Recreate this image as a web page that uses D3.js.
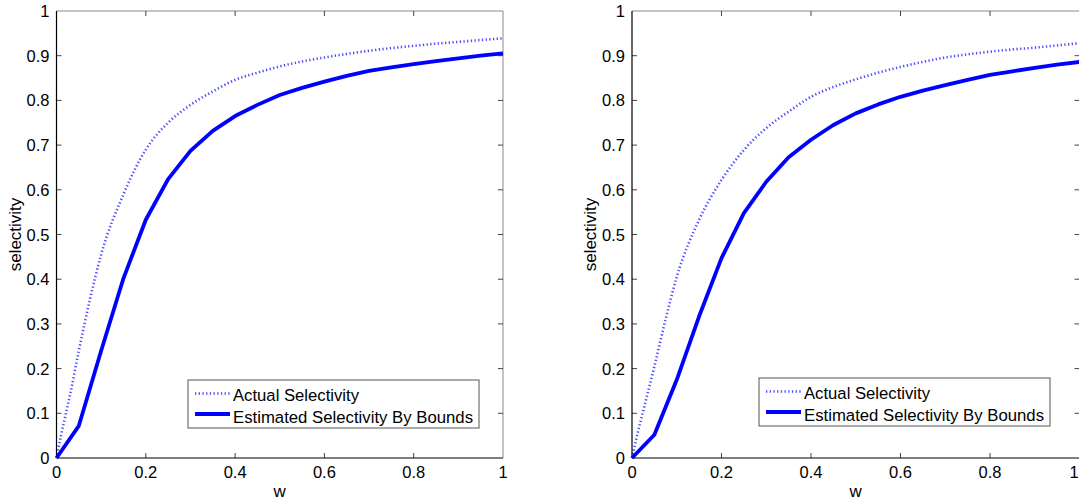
<!DOCTYPE html>
<html>
<head>
<meta charset="utf-8">
<script src="https://cdn.jsdelivr.net/npm/d3@7"></script>
<style>
  html, body { margin: 0; padding: 0; background: #fff; overflow: hidden; }
  svg { display: block; }
  text { font-family: "Liberation Sans", Arial, sans-serif; fill: #000; }
</style>
</head>
<body>
<svg id="chart" width="1079" height="504"></svg>
<script>
// w grid for the bound-based estimate (piecewise linear)
const wEstimated = [0, 0.05, 0.1, 0.15, 0.2, 0.25, 0.3, 0.35, 0.4, 0.45, 0.5,
                    0.55, 0.6, 0.65, 0.7, 0.75, 0.8, 0.85, 0.9, 0.95, 1];
// w grid for the actual selectivity curve
const wActual = [0, 0.01, 0.02, 0.03, 0.05, 0.075, 0.1, 0.15, 0.2, 0.25, 0.3, 0.35,
                 0.4, 0.45, 0.5, 0.55, 0.6, 0.65, 0.7, 0.75, 0.8, 0.85, 0.9, 0.95, 1];

// left panel
const leftActual = [0, 0.05, 0.095, 0.14, 0.24, 0.355, 0.455, 0.59, 0.69, 0.75, 0.79, 0.82,
                    0.846, 0.862, 0.876, 0.887, 0.896, 0.904, 0.911, 0.917, 0.922, 0.927, 0.931, 0.935, 0.939];
const leftEstimated = [0, 0.072, 0.24, 0.402, 0.533, 0.624, 0.687, 0.732, 0.765, 0.79, 0.812,
                       0.828, 0.842, 0.855, 0.866, 0.874, 0.881, 0.888, 0.894, 0.9, 0.905];

// right panel
const rightActual = [0, 0.045, 0.085, 0.125, 0.205, 0.31, 0.405, 0.533, 0.622, 0.689, 0.738, 0.775,
                     0.808, 0.83, 0.847, 0.862, 0.875, 0.886, 0.896, 0.903, 0.909, 0.914, 0.918, 0.923, 0.928];
const rightEstimated = [0, 0.052, 0.175, 0.317, 0.447, 0.548, 0.618, 0.673, 0.712, 0.745, 0.771,
                        0.791, 0.808, 0.822, 0.834, 0.846, 0.857, 0.865, 0.873, 0.88, 0.886];

const xTicks = [0, 0.2, 0.4, 0.6, 0.8, 1];
const yTicks = [0, 0.1, 0.2, 0.3, 0.4, 0.5, 0.6, 0.7, 0.8, 0.9, 1];
const legendLabels = ["Actual Selectivity", "Estimated Selectivity By Bounds"];
const xTitle = "w";
const yTitle = "selectivity";

const svg = d3.select("#chart");
const BLUE = "#0000ff";
const W = 1079;

function panel(box, legendPos, actual, estimated) {
  const x = d3.scaleLinear().domain([0, 1]).range([box.left, box.right]);
  const y = d3.scaleLinear().domain([0, 1]).range([box.bottom, box.top]);
  const g = svg.append("g");

  // frame + inward ticks on all four sides
  g.append("line").attr("x1", box.left).attr("x2", box.right).attr("y1", box.top).attr("y2", box.top)
    .attr("stroke", "#8a8a8a").attr("stroke-width", 1);
  g.append("line").attr("x1", box.right).attr("x2", box.right).attr("y1", box.top).attr("y2", box.bottom)
    .attr("stroke", "#8a8a8a").attr("stroke-width", 1);

  const tl = 5;
  g.selectAll(".tb").data(xTicks.slice(1, -1)).join("line")
    .attr("x1", d => x(d)).attr("x2", d => x(d)).attr("y1", box.bottom).attr("y2", box.bottom - tl)
    .attr("stroke", "#444");
  g.selectAll(".tt").data(xTicks.slice(1, -1)).join("line")
    .attr("x1", d => x(d)).attr("x2", d => x(d)).attr("y1", box.top).attr("y2", box.top + tl)
    .attr("stroke", "#444");
  g.selectAll(".tlft").data(yTicks.slice(1, -1)).join("line")
    .attr("x1", box.left).attr("x2", box.left + tl).attr("y1", d => y(d)).attr("y2", d => y(d))
    .attr("stroke", "#444");
  g.selectAll(".trt").data(yTicks.slice(1, -1)).join("line")
    .attr("x1", box.right).attr("x2", box.right - tl).attr("y1", d => y(d)).attr("y2", d => y(d))
    .attr("stroke", "#444");

  g.append("line").attr("x1", box.left).attr("x2", box.right).attr("y1", box.bottom).attr("y2", box.bottom)
    .attr("stroke", "#000").attr("stroke-width", 1.2);
  g.append("line").attr("x1", box.left).attr("x2", box.left).attr("y1", box.top).attr("y2", box.bottom)
    .attr("stroke", "#000").attr("stroke-width", 1.2);

  // tick labels (a label that would spill past the page edge is pulled back inside)
  g.selectAll(".xl").data(xTicks).join("text")
    .attr("x", d => Math.min(x(d), W - 5)).attr("y", box.bottom + 20)
    .attr("text-anchor", "middle").attr("font-size", 16.5)
    .text(d => d3.format("~g")(d));
  g.selectAll(".yl").data(yTicks).join("text")
    .attr("x", box.left - 7).attr("y", d => y(d) + 6)
    .attr("text-anchor", "end").attr("font-size", 16.5)
    .text(d => d3.format("~g")(d));

  // axis titles
  g.append("text").attr("x", (box.left + box.right) / 2).attr("y", box.bottom + 39)
    .attr("text-anchor", "middle").attr("font-size", 17).text(xTitle);
  g.append("text")
    .attr("transform", `translate(${box.left - 36},${(box.top + box.bottom) / 2}) rotate(-90)`)
    .attr("text-anchor", "middle").attr("font-size", 17).text(yTitle);

  // series
  const actLine = d3.line().x((d, i) => x(wActual[i])).y(d => y(d)).curve(d3.curveMonotoneX);
  const estLine = d3.line().x((d, i) => x(wEstimated[i])).y(d => y(d));

  g.append("path").datum(actual).attr("d", actLine)
    .attr("fill", "none").attr("stroke", BLUE).attr("stroke-opacity", 0.7)
    .attr("stroke-width", 2.6).attr("stroke-dasharray", "1.3,2.4");
  g.append("path").datum(estimated).attr("d", estLine)
    .attr("fill", "none").attr("stroke", BLUE).attr("stroke-width", 3.8)
    .attr("stroke-linejoin", "round");

  // legend
  const lg = g.append("g").attr("transform", `translate(${legendPos.x},${legendPos.y})`);
  lg.append("rect").attr("x", 0).attr("y", 0).attr("width", legendPos.w).attr("height", legendPos.h)
    .attr("fill", "#fff").attr("stroke", "#555").attr("stroke-width", 1);
  lg.append("line").attr("x1", 7).attr("x2", 42).attr("y1", 13.5).attr("y2", 13.5)
    .attr("stroke", BLUE).attr("stroke-opacity", 0.7).attr("stroke-width", 2.6)
    .attr("stroke-dasharray", "1.3,2.4");
  lg.append("line").attr("x1", 7).attr("x2", 42).attr("y1", 34).attr("y2", 34)
    .attr("stroke", BLUE).attr("stroke-width", 3.8);
  lg.selectAll(".lt").data(legendLabels).join("text")
    .attr("x", 45).attr("y", (d, i) => 20.5 + i * 22)
    .attr("font-size", 16.8).attr("textLength", (d, i) => i === 0 ? 126 : 240)
    .attr("lengthAdjust", "spacingAndGlyphs").text(d => d);
}

panel({ left: 56.5, right: 503, top: 11, bottom: 458 },
      { x: 188, y: 380, w: 291, h: 48 }, leftActual, leftEstimated);
panel({ left: 632, right: 1079.5, top: 11, bottom: 458 },
      { x: 759, y: 378, w: 291, h: 48 }, rightActual, rightEstimated);
</script>
</body>
</html>
